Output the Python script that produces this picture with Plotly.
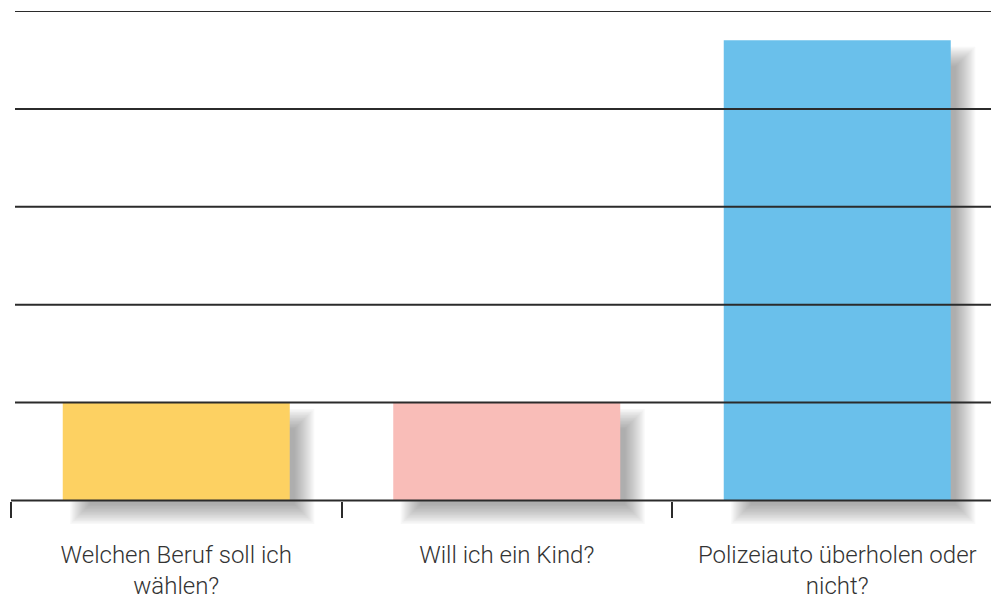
import plotly.graph_objects as go

categories = ["Welchen Beruf soll ich<br>wählen?", "Will ich ein Kind?", "Polizeiauto überholen oder<br>nicht?"]
values = [1, 1, 4.7]
colors = ["#FDD162", "#F9BDB8", "#6AC0EB"]
grid_values = [1, 2, 3, 4, 5]

# page body has an 8px default margin: size the figure so it ends at the window edge
BODY = 8
W, H = 999 - BODY, 607 - BODY
ml, mr, mt = 11 - BODY, 1, 11 - BODY
px_per_cat = 330.5
x_lo = -0.5
x_hi = x_lo + (W - ml - mr) / px_per_cat
y_min, y_max = -0.25, 5.0
px_per_unit = 98.0
plot_h = (y_max - y_min) * px_per_unit
mb = H - mt - plot_h

bw = 227 / px_per_cat

fig = go.Figure()

# soft drop shadow: many thin translucent layers to imitate blur
sdx, sdy = 16, 15
shadow_spread = [-11 + 1.5 * k for k in range(14)]
for e in shadow_spread:
    eu_x = e / px_per_cat
    eu_y = e / px_per_unit
    fig.add_trace(go.Bar(
        x=categories,
        y=[v + 2 * eu_y for v in values],
        base=[-sdy / px_per_unit - eu_y] * len(values),
        width=bw + 2 * eu_x,
        offset=-bw / 2 + sdx / px_per_cat - eu_x,
        marker=dict(color="rgba(70,72,80,0.038)", line=dict(width=0)),
        hoverinfo="skip", showlegend=False,
    ))

fig.add_trace(go.Bar(
    x=categories, y=values, width=bw, offset=-bw / 2,
    marker=dict(color=colors, line=dict(width=0)),
    showlegend=False,
))

shapes = []
x0_grid = 4 / (W - ml - mr)
for g in grid_values:
    shapes.append(dict(type="line", xref="paper", yref="y", x0=x0_grid, x1=1, y0=g, y1=g,
                       line=dict(color="#2b2b2b", width=2), layer="above"))
shapes.append(dict(type="line", xref="paper", yref="y", x0=0, x1=1, y0=0, y1=0,
                   line=dict(color="#2b2b2b", width=2), layer="above"))

fig.update_layout(
    width=W, height=H,
    margin=dict(l=ml, r=mr, t=mt, b=mb, pad=0, autoexpand=False),
    paper_bgcolor="white", plot_bgcolor="white",
    barmode="overlay",
    shapes=shapes,
    font=dict(family="Roboto, sans-serif", size=24, color="#333333", weight=300),
)
fig.update_xaxes(
    type="category", categoryorder="array", categoryarray=categories,
    range=[x_lo, x_hi], tickson="boundaries", ticks="outside", ticklen=16,
    tickcolor="#2b2b2b", tickwidth=1.5, showgrid=False, showline=False, zeroline=False,
    anchor="free", position=(0 - y_min) / (y_max - y_min), automargin=False,
    ticklabelstandoff=37,
)
fig.update_yaxes(range=[y_min, y_max], showgrid=False, zeroline=False, showticklabels=False,
                 showline=False, ticks="", automargin=False)

fig.write_html("out.html")
